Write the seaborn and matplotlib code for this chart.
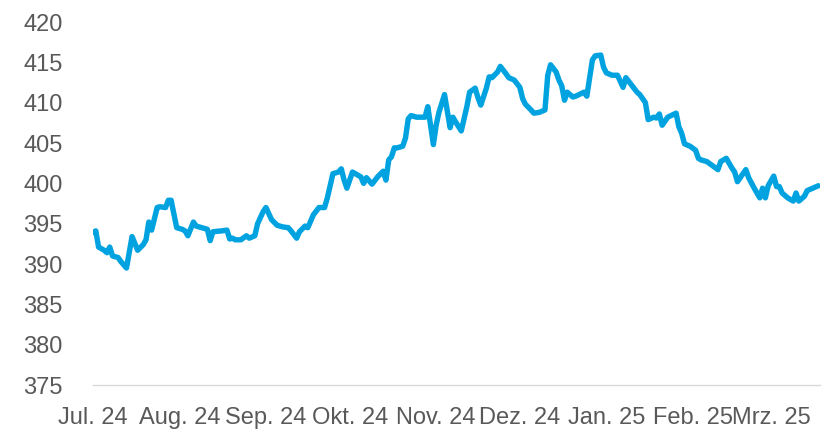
import matplotlib
matplotlib.use("Agg")
import matplotlib.pyplot as plt
import pandas as pd
import seaborn as sns

# ---- data ----
jul_days = ["01","02","03","05","06","07","08","10","11","13","15","17","19","20","21","22","24","25","27","28","29","31"]
jul_vals = [393.9,394.1,392.1,391.7,391.4,392.1,391.0,390.8,390.3,389.5,393.4,391.7,392.4,393.0,395.2,394.2,397.0,397.1,397.0,397.9,397.9,394.5]
aug_days = ["02","03","04","06","07","09","11","12","13","16","18","19","20","21","23","25","26","28","29","31"]
aug_vals = [394.3,394.1,393.5,395.2,394.7,394.5,394.3,392.9,394.0,394.1,394.2,393.1,393.2,393.0,393.0,393.5,393.2,393.5,395.0,396.5]
sep_days = ["01","03","05","07","09","10","12","13","15","16","18","20","22","23","25","27","28","29","30"]
sep_vals = [397.0,395.5,394.8,394.6,394.5,394.1,393.2,394.0,394.7,394.5,396.1,397.0,397.0,398.2,401.2,401.4,401.8,400.4,399.4]
oct_days = ["02","03","05","06","07","09","11","13","14","15","16","17","18","20","21","22","23","25","28","29","30","31"]
oct_vals = [401.4,401.2,400.8,400.0,400.7,399.9,400.8,401.5,400.4,402.9,403.3,404.4,404.4,404.6,405.6,408.0,408.4,408.2,408.2,409.5,407.2,404.8]
nov_days = ["01","02","04","06","07","08","10","12","13","15","16","17","19","20","21","23","24","26","27","29"]
nov_vals = [407.2,408.8,411.0,406.9,408.2,407.6,406.5,409.5,411.3,411.8,410.6,409.7,411.8,413.2,413.1,413.8,414.5,413.6,413.1,412.8]
dec_days = ["01","02","03","05","06","08","10","11","12","14","15","16","17","18","20","21","24","25","27","28","30","31"]
dec_vals = [411.9,410.5,409.8,409.1,408.7,408.8,409.1,413.4,414.7,413.8,412.8,412.1,410.3,411.3,410.7,410.8,411.3,410.8,415.3,415.8,415.9,414.4]
jan_days = ["01","03","05","07","08","10","12","13","15","16","18","19","20","21","23","26","27","28","29","31"]
jan_vals = [413.7,413.4,413.4,411.9,413.1,412.2,411.3,411.0,410.0,407.9,408.2,408.1,408.6,407.2,408.2,408.7,407.0,406.2,404.9,404.6]
feb_days = ["02","03","04","06","08","10","11","13","15","16","17","20","21","23","25","26","27","28"]
feb_vals = [404.1,403.1,402.9,402.7,402.2,401.7,402.7,403.1,401.9,401.4,400.2,401.7,400.7,399.4,398.2,399.4,398.2,399.7]
mar_days = ["02","03","04","05","07","09","10","11","13","14","16","18"]
mar_vals = [400.9,399.6,399.6,398.8,398.2,397.8,398.8,397.8,398.4,399.1,399.4,399.7]

months = [("2024-07", jul_days, jul_vals), ("2024-08", aug_days, aug_vals),
          ("2024-09", sep_days, sep_vals), ("2024-10", oct_days, oct_vals),
          ("2024-11", nov_days, nov_vals), ("2024-12", dec_days, dec_vals),
          ("2025-01", jan_days, jan_vals), ("2025-02", feb_days, feb_vals),
          ("2025-03", mar_days, mar_vals)]

tick_labels = ["Jul. 24", "Aug. 24", "Sep. 24", "Okt. 24", "Nov. 24",
               "Dez. 24", "Jan. 25", "Feb. 25", "Mrz. 25"]
tick_dates = ["2024-07-01", "2024-08-01", "2024-09-01", "2024-10-01", "2024-11-01",
              "2024-12-01", "2025-01-01", "2025-02-01", "2025-03-01"]
y_ticks = [375, 380, 385, 390, 395, 400, 405, 410, 415, 420]

dates, values = [], []
for ym, ds, vs in months:
    dates += [f"{ym}-{d}" for d in ds]
    values += vs
df = pd.DataFrame({"date": pd.to_datetime(dates), "value": values})

# ---- style ----
sns.set_style("white")
plt.rcParams["font.family"] = ["Liberation Sans", "DejaVu Sans"]
fsize = 17

fig = plt.figure(figsize=(8.24, 4.36), dpi=100)
ax = fig.add_axes([93/824, 1-385/436, (820-93)/824, (385-22)/436])

sns.lineplot(data=df, x="date", y="value", ax=ax, color="#00A3E0",
             linewidth=3.9, solid_joinstyle="round", solid_capstyle="round")

ax.set_ylim(375, 420)
ax.set_xlim(pd.Timestamp("2024-07-01"), pd.Timestamp("2025-03-18 14:00"))
ax.set_yticks(y_ticks)
ax.set_yticklabels([str(v) for v in y_ticks])
ax.set_xticks(pd.to_datetime(tick_dates))
ax.set_xticklabels(tick_labels)

ax.set_xlabel("")
ax.set_ylabel("")
for s in ["left", "right", "top"]:
    ax.spines[s].set_visible(False)
ax.spines["bottom"].set_color("#D9D9D9")
ax.spines["bottom"].set_linewidth(1.0)

ax.tick_params(axis="y", length=0, pad=22, labelsize=fsize, labelcolor="#595959")
ax.tick_params(axis="x", length=8, width=1.0, color="#D9D9D9", pad=8,
               labelsize=fsize, labelcolor="#595959")
ax.grid(False)

fig.savefig("out.png", dpi=100)
